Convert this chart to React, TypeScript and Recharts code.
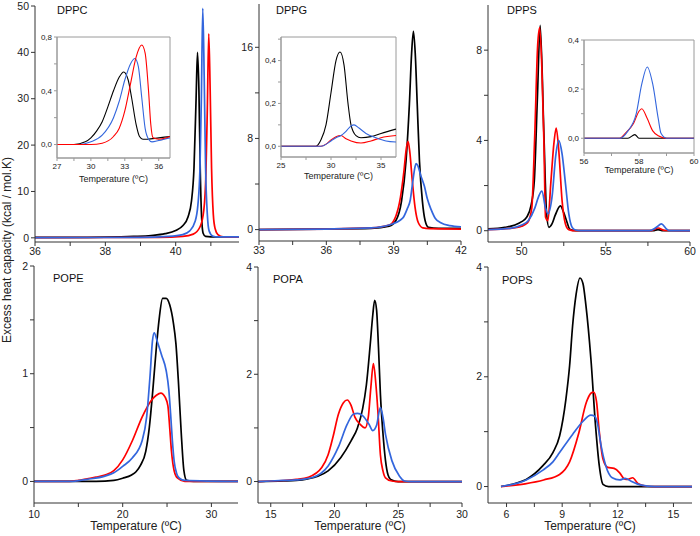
import { LineChart, Line, XAxis, YAxis, ReferenceArea } from "recharts"

const FONT = 'Arial, "Liberation Sans", Helvetica, sans-serif'
const BLACK = "#000000"
const RED = "#ff0000"
const BLUE = "#3366dd"

type Pt = [number, number]

// DPPC main
const dppcBlack: Pt[] = [[36, 0.1], [37, 0.1], [38, 0.15], [38.8, 0.3], [39.3, 0.5], [39.7, 0.9], [40.0, 1.6], [40.2, 2.6], [40.35, 4.5], [40.45, 8], [40.52, 15], [40.58, 30], [40.62, 40], [40.66, 32], [40.7, 14], [40.74, 4], [40.78, 1], [40.85, 0.3], [41, 0.2], [41.8, 0.2]]
const dppcRed: Pt[] = [[36, 0.05], [39.5, 0.1], [40.2, 0.3], [40.5, 0.8], [40.7, 2.5], [40.8, 6], [40.86, 14], [40.9, 28], [40.94, 44], [40.98, 32], [41.02, 15], [41.07, 5], [41.12, 2], [41.2, 0.7], [41.35, 0.2], [41.8, 0.15]]
const dppcBlue: Pt[] = [[36, 0.05], [39, 0.1], [39.8, 0.3], [40.2, 0.7], [40.4, 1.5], [40.55, 3.5], [40.63, 7], [40.69, 15], [40.73, 30], [40.77, 49.5], [40.81, 35], [40.85, 15], [40.9, 5], [40.95, 1.5], [41.05, 0.4], [41.2, 0.2], [41.8, 0.2]]
// DPPC inset
const dppcInBlack: Pt[] = [[27, 0], [28.5, 0], [29.5, 0.02], [30, 0.05], [30.5, 0.1], [31, 0.17], [31.5, 0.28], [32, 0.4], [32.5, 0.5], [32.9, 0.54], [33.3, 0.48], [33.6, 0.35], [34, 0.15], [34.3, 0.06], [34.6, 0.04], [35, 0.04], [36, 0.05], [37, 0.06]]
const dppcInRed: Pt[] = [[27, 0], [30, 0], [31, 0.01], [32, 0.06], [32.5, 0.12], [33, 0.25], [33.5, 0.45], [34, 0.65], [34.5, 0.74], [34.8, 0.68], [35.1, 0.4], [35.3, 0.15], [35.5, 0.05], [36, 0.04], [37, 0.06]]
const dppcInBlue: Pt[] = [[27, 0], [29, 0], [30, 0.02], [31, 0.07], [32, 0.2], [32.5, 0.32], [33, 0.48], [33.5, 0.6], [33.9, 0.64], [34.2, 0.58], [34.5, 0.35], [34.8, 0.12], [35.1, 0.04], [35.4, 0.02], [36, 0.03], [37, 0.05]]

// DPPG main
const dppgBlack: Pt[] = [[33, 0], [36, 0.05], [38, 0.1], [38.8, 0.3], [39.1, 0.8], [39.35, 2.5], [39.55, 6], [39.7, 11], [39.8, 15.5], [39.88, 17.4], [39.96, 15.5], [40.05, 11], [40.15, 6], [40.28, 2.5], [40.4, 0.8], [40.55, 0.2], [41, 0.1], [42, 0.1]]
const dppgRed: Pt[] = [[33, 0], [36, 0.05], [38, 0.15], [38.8, 0.4], [39.1, 1.2], [39.3, 2.8], [39.45, 5], [39.57, 7.2], [39.64, 7.75], [39.72, 6.8], [39.82, 4.5], [39.95, 2], [40.1, 0.6], [40.3, 0.15], [40.6, 0.08], [42, 0.05]]
const dppgBlue: Pt[] = [[33, 0], [36, 0.05], [38, 0.15], [38.8, 0.4], [39.4, 1.0], [39.6, 1.8], [39.74, 2.6], [39.85, 4.2], [39.95, 5.5], [40.0, 5.8], [40.08, 5.6], [40.2, 4.8], [40.37, 3.8], [40.5, 2.7], [40.67, 1.75], [40.85, 1.0], [41.1, 0.6], [41.5, 0.35], [42, 0.25]]
// DPPG inset
const dppgInBlack: Pt[] = [[25, 0], [28.5, 0], [29, 0.03], [29.5, 0.1], [30, 0.25], [30.5, 0.4], [30.9, 0.44], [31.3, 0.38], [31.7, 0.2], [32, 0.1], [32.5, 0.05], [33, 0.04], [34, 0.045], [35, 0.06], [36.5, 0.08]]
const dppgInRed: Pt[] = [[25, 0], [29, 0], [29.5, 0.01], [30, 0.03], [30.5, 0.045], [31, 0.05], [31.5, 0.035], [32, 0.025], [33, 0.015], [34, 0.025], [35, 0.04], [36.5, 0.05]]
const dppgInBlue: Pt[] = [[25, 0], [29, 0], [30, 0.025], [30.5, 0.04], [31, 0.05], [31.5, 0.07], [32, 0.095], [32.3, 0.1], [32.8, 0.085], [33.5, 0.06], [34.5, 0.04], [35.5, 0.025], [36.5, 0.02]]

// DPPS main
const dppsBlack: Pt[] = [[48, 0.08], [49, 0.15], [49.6, 0.25], [50.0, 0.4], [50.3, 0.6], [50.55, 1.1], [50.75, 2.2], [50.93, 5.8], [51.1, 9.1], [51.32, 4.3], [51.48, 0.75], [51.62, 0.15], [51.8, 0.3], [52.0, 0.7], [52.3, 1.1], [52.5, 0.8], [52.66, 0.45], [52.86, 0.07], [53.2, 0], [57.8, 0], [58.1, 0.05], [58.4, 0], [60, 0]]
const dppsRed: Pt[] = [[48, 0.05], [49.3, 0.1], [50.0, 0.2], [50.35, 0.35], [50.6, 1.0], [50.78, 4.3], [50.95, 8.2], [51.07, 9.0], [51.2, 7.2], [51.32, 4.0], [51.42, 0.6], [51.56, 0.45], [51.73, 2.1], [51.92, 3.9], [52.05, 4.55], [52.2, 3.6], [52.4, 1.34], [52.6, 0.3], [52.8, 0.05], [53.2, 0], [57.7, 0], [58.1, 0.12], [58.5, 0.01], [60, 0]]
const dppsBlue: Pt[] = [[48, 0.05], [49.3, 0.1], [50.0, 0.25], [50.4, 0.45], [50.78, 1.0], [51.0, 1.5], [51.2, 1.75], [51.42, 1.0], [51.56, 0.75], [51.82, 1.6], [52.02, 3.3], [52.2, 4.0], [52.4, 3.4], [52.6, 2.1], [52.8, 0.75], [53.0, 0.15], [53.2, 0.03], [53.5, 0], [57.6, 0], [58.0, 0.15], [58.3, 0.3], [58.6, 0.08], [58.8, 0], [60, 0]]
// DPPS inset
const dppsInBlack: Pt[] = [[56, 0], [57.6, 0], [57.85, 0.015], [58.0, 0], [60, 0]]
const dppsInRed: Pt[] = [[56, 0], [57.3, 0], [57.5, 0.02], [57.8, 0.06], [58.0, 0.11], [58.1, 0.12], [58.3, 0.08], [58.5, 0.03], [58.7, 0.01], [59, 0], [60, 0]]
const dppsInBlue: Pt[] = [[56, 0], [57.3, 0], [57.6, 0.03], [57.9, 0.1], [58.1, 0.22], [58.3, 0.29], [58.5, 0.22], [58.7, 0.08], [58.8, 0.02], [59, 0], [60, 0]]

// POPE
const popeBlack: Pt[] = [[10, 0], [17, 0], [19, 0.01], [20, 0.03], [21, 0.06], [21.5, 0.09], [22, 0.15], [22.6, 0.28], [23, 0.5], [23.4, 0.85], [23.8, 1.25], [24.1, 1.5], [24.5, 1.7], [24.9, 1.7], [25.3, 1.64], [25.7, 1.48], [26.0, 1.28], [26.3, 0.9], [26.6, 0.45], [26.9, 0.1], [27.2, 0.01], [28, 0], [33, 0]]
const popeRed: Pt[] = [[10, 0], [14, 0], [15, 0.01], [16, 0.025], [17, 0.04], [18, 0.06], [19, 0.1], [20, 0.2], [21.1, 0.38], [22.2, 0.6], [23.2, 0.75], [23.8, 0.8], [24.3, 0.82], [24.8, 0.78], [25.1, 0.7], [25.3, 0.5], [25.5, 0.28], [25.8, 0.1], [26.2, 0.03], [27, 0], [33, 0]]
const popeBlue: Pt[] = [[10, 0], [14, 0], [16, 0.02], [18, 0.05], [19, 0.08], [20, 0.14], [21.1, 0.22], [22.2, 0.38], [22.7, 0.6], [23.1, 1.0], [23.35, 1.3], [23.55, 1.38], [23.9, 1.3], [24.4, 1.17], [24.9, 1.03], [25.2, 0.85], [25.4, 0.63], [25.6, 0.38], [25.8, 0.19], [26.1, 0.07], [26.4, 0.03], [27, 0.01], [33, 0]]

// POPA
const popaBlack: Pt[] = [[14, 0], [16, 0.01], [17, 0.02], [17.9, 0.05], [18.7, 0.1], [19.5, 0.2], [20.5, 0.45], [21.3, 0.76], [21.8, 1.0], [22.2, 1.35], [22.5, 1.8], [22.8, 2.55], [23.0, 3.1], [23.15, 3.38], [23.3, 3.2], [23.45, 2.5], [23.6, 1.63], [23.8, 0.9], [24.0, 0.39], [24.2, 0.12], [24.4, 0.04], [25, 0], [30, 0]]
const popaRed: Pt[] = [[14, 0], [16, 0.02], [17, 0.04], [17.95, 0.08], [19.0, 0.26], [19.5, 0.5], [19.9, 0.85], [20.3, 1.25], [20.7, 1.47], [21.0, 1.52], [21.3, 1.42], [21.6, 1.2], [22.0, 1.07], [22.4, 1.0], [22.65, 1.2], [22.85, 1.75], [23.05, 2.2], [23.25, 1.8], [23.4, 1.32], [23.6, 0.5], [23.8, 0.2], [24.0, 0.07], [24.5, 0.01], [25, 0], [30, 0]]
const popaBlue: Pt[] = [[14, 0], [16, 0.02], [17, 0.03], [18.2, 0.07], [19.5, 0.29], [20.3, 0.64], [21.0, 1.07], [21.5, 1.26], [21.8, 1.27], [22.2, 1.23], [22.7, 1.07], [23.0, 0.95], [23.3, 1.05], [23.6, 1.38], [23.8, 1.2], [24.0, 0.88], [24.5, 0.39], [25.1, 0.1], [25.5, 0.01], [26, 0], [30, 0]]

// POPS
const popsBlack: Pt[] = [[5.7, 0], [6.5, 0.06], [7.06, 0.13], [7.96, 0.38], [8.5, 0.62], [8.86, 0.92], [9.2, 1.59], [9.4, 2.2], [9.56, 2.92], [9.75, 3.5], [9.96, 3.8], [10.12, 3.7], [10.28, 3.3], [10.55, 2.32], [10.8, 1.1], [11.0, 0.38], [11.2, 0.04], [11.5, 0], [16, 0]]
const popsRed: Pt[] = [[5.7, 0], [7, 0.05], [8, 0.12], [8.86, 0.22], [9.4, 0.45], [9.9, 0.98], [10.3, 1.53], [10.55, 1.7], [10.7, 1.72], [10.85, 1.55], [11.0, 1.0], [11.2, 0.5], [11.45, 0.35], [11.8, 0.33], [12.1, 0.25], [12.35, 0.14], [12.55, 0.13], [12.8, 0.16], [13.1, 0.05], [13.5, 0.01], [14, 0], [16, 0]]
const popsBlue: Pt[] = [[5.7, 0], [7.06, 0.12], [7.96, 0.3], [8.5, 0.45], [8.86, 0.62], [9.56, 0.95], [10.1, 1.18], [10.55, 1.3], [10.75, 1.28], [10.9, 1.15], [11.1, 0.74], [11.35, 0.38], [11.7, 0.16], [12.1, 0.12], [12.4, 0.15], [12.7, 0.1], [13.2, 0.03], [14, 0], [16, 0]]

const toRows = (pts: Pt[]) => pts.map(([t, v]) => ({ t, v }))
const plain = (v: number) => String(v)
const comma = (v: number) => v.toFixed(1).replace(".", ",")

type PanelProps = {
  box: [number, number, number, number] // plot area: left, top, right, bottom
  xDomain: [number, number]
  yDomain: [number, number]
  xTicks: number[]
  xLabels: number[]
  yTicks: number[]
  yLabels: number[]
  curves: [Pt[], string][]
  inset?: boolean
  xTitle?: string
  padB: number
  xGap: number
}

// room kept under the title's baseline so descenders are not cut
const SLACK = 5

function Panel(p: PanelProps) {
  const [l, t, r, b] = p.box
  const inset = !!p.inset
  const padL = inset ? 26 : 34
  const padT = 8
  const padR = 6
  const padB = p.padB + SLACK
  const fs = inset ? 8 : 10.5
  const axis = inset ? "#9a9a9a" : "#333"
  const fmt = inset ? comma : plain

  const xTick = (props: any) => {
    if (!p.xLabels.includes(props.payload.value)) return <g />
    return (
      <text x={props.x} y={props.y} dy="0.71em" textAnchor="middle" fontSize={fs} fill="#222">
        {plain(props.payload.value)}
      </text>
    )
  }
  const yTick = (props: any) => {
    if (!p.yLabels.includes(props.payload.value)) return <g />
    return (
      <text x={props.x} y={props.y} dy="0.35em" textAnchor="end" fontSize={fs} fill="#222">
        {fmt(props.payload.value)}
      </text>
    )
  }

  return (
    <div style={{ position: "absolute", left: l - padL, top: t - padT, fontFamily: FONT }}>
      <LineChart
        width={r - l + padL + padR}
        height={b - t + padT + padB}
        margin={{ top: padT, right: padR, left: 0, bottom: 0 }}
      >
        <XAxis
          type="number"
          dataKey="t"
          domain={p.xDomain}
          allowDataOverflow
          ticks={p.xTicks}
          interval={0}
          tick={xTick}
          tickSize={inset ? 3 : 4}
          tickMargin={p.xGap}
          stroke={axis}
          height={padB}
          label={
            p.xTitle
              ? { value: p.xTitle, position: "insideBottom", offset: SLACK, fontSize: inset ? 9 : 12, fill: "#222" }
              : undefined
          }
        />
        <YAxis
          type="number"
          domain={p.yDomain}
          allowDataOverflow
          ticks={p.yTicks}
          interval={0}
          tick={yTick}
          tickSize={inset ? 3 : 4}
          tickMargin={2}
          stroke={axis}
          width={padL}
        />
        {inset && (
          <ReferenceArea
            x1={p.xDomain[0]}
            x2={p.xDomain[1]}
            y1={p.yDomain[0]}
            y2={p.yDomain[1]}
            fill="#ffffff"
            fillOpacity={0}
            stroke={axis}
            strokeWidth={1}
          />
        )}
        {p.curves.map(([pts, color], i) => (
          <Line
            key={i}
            data={toRows(pts)}
            dataKey="v"
            type="monotone"
            stroke={color}
            strokeWidth={inset ? 1.1 : 1.7}
            dot={false}
            isAnimationActive={false}
          />
        ))}
      </LineChart>
    </div>
  )
}

const titles: [string, number, number][] = [
  ["DPPC", 57, 14],
  ["DPPG", 276, 13.5],
  ["DPPS", 507, 14],
  ["POPE", 53, 282],
  ["POPA", 273, 283],
  ["POPS", 502, 284],
]

const TEMP = "Temperature (\u00baC)"

export default function App() {
  return (
    <div style={{ position: "absolute", left: 0, top: 0, width: 700, height: 536, background: "#fff", overflow: "hidden" }}>
      <Panel box={[35, 6, 239, 242]} xDomain={[36, 41.8]} yDomain={[-0.9, 50]}
        xTicks={[36, 37, 38, 39, 40, 41]} xLabels={[36, 38, 40]}
        yTicks={[0, 10, 20, 30, 40, 50]} yLabels={[0, 10, 20, 30, 40, 50]}
        curves={[[dppcBlack, BLACK], [dppcRed, RED], [dppcBlue, BLUE]]} padB={22} xGap={2} />
      <Panel box={[57, 37, 170, 158]} xDomain={[27, 37]} yDomain={[-0.1, 0.8]} inset xTitle={TEMP}
        xTicks={[27, 28.5, 30, 31.5, 33, 34.5, 36]} xLabels={[27, 30, 33, 36]}
        yTicks={[0, 0.2, 0.4, 0.6, 0.8]} yLabels={[0, 0.4, 0.8]}
        curves={[[dppcInBlack, BLACK], [dppcInBlue, BLUE], [dppcInRed, RED]]} padB={24} xGap={2} />

      <Panel box={[259, 4, 461, 241]} xDomain={[33, 42]} yDomain={[-1, 19.8]}
        xTicks={[33, 34.5, 36, 37.5, 39, 40.5, 42]} xLabels={[33, 36, 39, 42]}
        yTicks={[0, 4, 8, 12, 16]} yLabels={[0, 8, 16]}
        curves={[[dppgBlack, BLACK], [dppgRed, RED], [dppgBlue, BLUE]]} padB={22} xGap={2} />
      <Panel box={[281, 37, 396, 157]} xDomain={[25, 36.5]} yDomain={[-0.05, 0.51]} inset xTitle={TEMP}
        xTicks={[25, 27.5, 30, 32.5, 35]} xLabels={[25, 30, 35]}
        yTicks={[0, 0.1, 0.2, 0.3, 0.4, 0.5]} yLabels={[0, 0.2, 0.4]}
        curves={[[dppgInBlack, BLACK], [dppgInRed, RED], [dppgInBlue, BLUE]]} padB={22} xGap={2} />

      <Panel box={[488, 5, 690, 242]} xDomain={[48, 60]} yDomain={[-0.5, 10]}
        xTicks={[50, 52.5, 55, 57.5, 60]} xLabels={[50, 55, 60]}
        yTicks={[0, 2, 4, 6, 8]} yLabels={[0, 4, 8]}
        curves={[[dppsBlack, BLACK], [dppsRed, RED], [dppsBlue, BLUE]]} padB={22} xGap={2} />
      <Panel box={[584, 40, 694, 153]} xDomain={[56, 60]} yDomain={[-0.06, 0.4]} inset xTitle={TEMP}
        xTicks={[56, 57, 58, 59, 60]} xLabels={[56, 58, 60]}
        yTicks={[0, 0.1, 0.2, 0.3, 0.4]} yLabels={[0, 0.2, 0.4]}
        curves={[[dppsInBlack, BLACK], [dppsInRed, RED], [dppsInBlue, BLUE]]} padB={20} xGap={2} />

      <Panel box={[34, 266, 238, 503]} xDomain={[10, 33]} yDomain={[-0.2, 2]} xTitle={TEMP}
        xTicks={[10, 15, 20, 25, 30]} xLabels={[10, 20, 30]}
        yTicks={[0, 0.5, 1, 1.5, 2]} yLabels={[0, 1, 2]}
        curves={[[popeBlack, BLACK], [popeRed, RED], [popeBlue, BLUE]]} padB={27} xGap={4} />
      <Panel box={[258, 267, 462, 503]} xDomain={[14, 30]} yDomain={[-0.4, 4]} xTitle={TEMP}
        xTicks={[15, 17.5, 20, 22.5, 25, 27.5, 30]} xLabels={[15, 20, 25, 30]}
        yTicks={[0, 1, 2, 3, 4]} yLabels={[0, 2, 4]}
        curves={[[popaBlack, BLACK], [popaRed, RED], [popaBlue, BLUE]]} padB={27} xGap={4} />
      <Panel box={[488, 267, 692, 503]} xDomain={[5, 16]} yDomain={[-0.3, 4]} xTitle={TEMP}
        xTicks={[6, 7.5, 9, 10.5, 12, 13.5, 15]} xLabels={[6, 9, 12, 15]}
        yTicks={[0, 1, 2, 3, 4]} yLabels={[0, 2, 4]}
        curves={[[popsBlack, BLACK], [popsRed, RED], [popsBlue, BLUE]]} padB={27} xGap={4} />

      <svg width={700} height={536} style={{ position: "absolute", left: 0, top: 0, pointerEvents: "none", fontFamily: FONT }}>
        {titles.map(([name, x, y]) => (
          <text key={name} x={x} y={y} fontSize={11} fill="#111">
            {name}
          </text>
        ))}
        <text x={11} y={250} fontSize={12} fill="#222" textAnchor="middle" transform="rotate(-90 11 250)">
          Excess heat capacity (kcal / mol.K)
        </text>
      </svg>
    </div>
  )
}
